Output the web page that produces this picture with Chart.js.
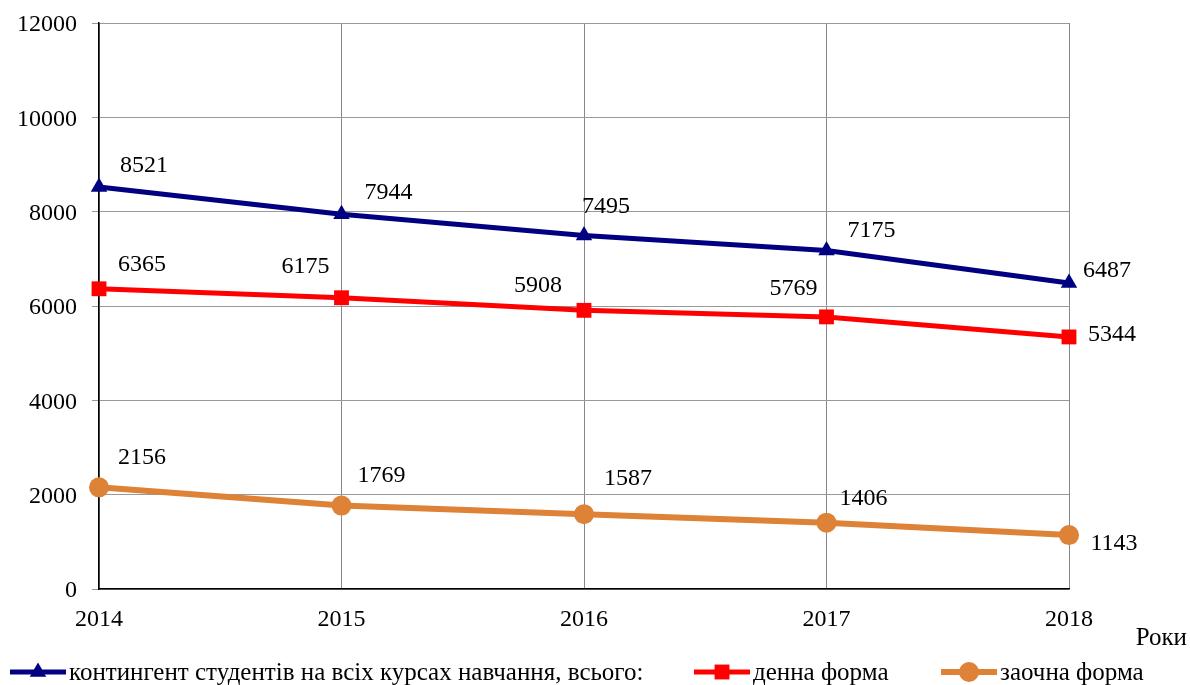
<!DOCTYPE html>
<html>
<head>
<meta charset="utf-8">
<script src="https://cdn.jsdelivr.net/npm/chart.js@4"></script>
<style>
  html, body { margin: 0; padding: 0; background: #fff; }
</style>
</head>
<body>
<canvas id="studentsChart" width="1190" height="685"></canvas>
<script>
const years = ['2014', '2015', '2016', '2017', '2018'];
const totalStudents = [8521, 7944, 7495, 7175, 6487];
const fullTime = [6365, 6175, 5908, 5769, 5344];
const partTime = [2156, 1769, 1587, 1406, 1143];
const seriesNames = ['контингент студентів на всіх курсах навчання, всього:', 'денна форма', 'заочна форма'];
const yTicks = [0, 2000, 4000, 6000, 8000, 10000, 12000];

// label offsets from the point (dx, dy) - hand placed like the original
const labelOffsets = [
    [[45, -22], [47, -23], [22, -30], [45, -21], [38, -13]],
    [[43, -25], [-36, -32], [-46, -26], [-33, -29], [43, -3]],
    [[43, -31], [40, -31], [44, -36], [37, -25], [45, 8]]
];

const serif = '"Liberation Serif", "Times New Roman", serif';

const labelsPlugin = {
    id: 'pointLabels',
    afterDatasetsDraw(chart) {
        const ctx = chart.ctx;
        ctx.save();
        ctx.font = '24px ' + serif;
        ctx.fillStyle = '#000';
        ctx.textAlign = 'center';
        ctx.textBaseline = 'middle';
        chart.data.datasets.forEach((ds, i) => {
            chart.getDatasetMeta(i).data.forEach((pt, j) => {
                const off = labelOffsets[i][j];
                ctx.fillText(String(ds.data[j]), pt.x + off[0], pt.y + off[1] + 1);
            });
        });
        ctx.restore();
    },
    afterDraw(chart) {
        const ctx = chart.ctx;
        ctx.save();
        ctx.font = '25px ' + serif;
        ctx.fillStyle = '#000';
        ctx.textBaseline = 'middle';
        ctx.textAlign = 'right';
        ctx.fillText('Роки', 1187, 638);

        // legend
        ctx.textAlign = 'left';
        const starts = [10, 694, 941];
        const ly = 672;
        chart.data.datasets.forEach((ds, i) => {
            const x0 = starts[i];
            ctx.strokeStyle = ds.borderColor;
            ctx.lineWidth = ds.borderWidth;
            ctx.beginPath();
            ctx.moveTo(x0, ly);
            ctx.lineTo(x0 + 56, ly);
            ctx.stroke();
            ctx.fillStyle = ds.borderColor;
            Chart.helpers.drawPoint(ctx, {
                pointStyle: ds.pointStyle,
                radius: ds.pointRadius,
                borderWidth: 0
            }, x0 + 28, ly);
            ctx.fillStyle = '#000';
            ctx.fillText(ds.label, x0 + 59, ly + 1);
        });
        ctx.restore();
    }
};

new Chart(document.getElementById('studentsChart').getContext('2d'), {
    type: 'line',
    data: {
        labels: years,
        datasets: [
            {
                label: seriesNames[0],
                data: totalStudents,
                borderColor: '#000080',
                backgroundColor: '#000080',
                borderWidth: 5,
                pointStyle: 'triangle',
                pointRadius: 9.5,
                pointBorderWidth: 0,
                clip: false
            },
            {
                label: seriesNames[1],
                data: fullTime,
                borderColor: '#ff0000',
                backgroundColor: '#ff0000',
                borderWidth: 5,
                pointStyle: 'rect',
                pointRadius: 10.5,
                pointBorderWidth: 0,
                clip: false
            },
            {
                label: seriesNames[2],
                data: partTime,
                borderColor: '#dd8237',
                backgroundColor: '#dd8237',
                borderWidth: 6,
                pointStyle: 'circle',
                pointRadius: 10,
                pointBorderWidth: 0,
                clip: false
            }
        ]
    },
    options: {
        responsive: false,
        animation: false,
        layout: {
            padding: { top: 0, right: 121, bottom: 0, left: 0 }
        },
        plugins: {
            legend: { display: false },
            tooltip: { enabled: false }
        },
        scales: {
            x: {
                offset: false,
                grid: { color: '#888', lineWidth: 1, drawTicks: false },
                border: { color: '#000', width: 1.5 },
                ticks: {
                    color: '#000',
                    font: { family: serif, size: 24 },
                    padding: 16,
                    maxRotation: 0
                },
                afterFit(scale) { scale.height = 96; }
            },
            y: {
                min: 0,
                max: 12000,
                afterBuildTicks(scale) { scale.ticks = yTicks.map(v => ({ value: v })); },
                grid: { color: '#999', lineWidth: 1, tickLength: 7 },
                border: { color: '#000', width: 1.5 },
                ticks: {
                    color: '#000',
                    font: { family: serif, size: 24, lineHeight: 0.667 },
                    padding: 15,
                    labelOffset: 2,
                    callback: v => String(v)
                },
                afterFit(scale) { scale.width = 99; }
            }
        }
    },
    plugins: [labelsPlugin]
});
</script>
</body>
</html>
